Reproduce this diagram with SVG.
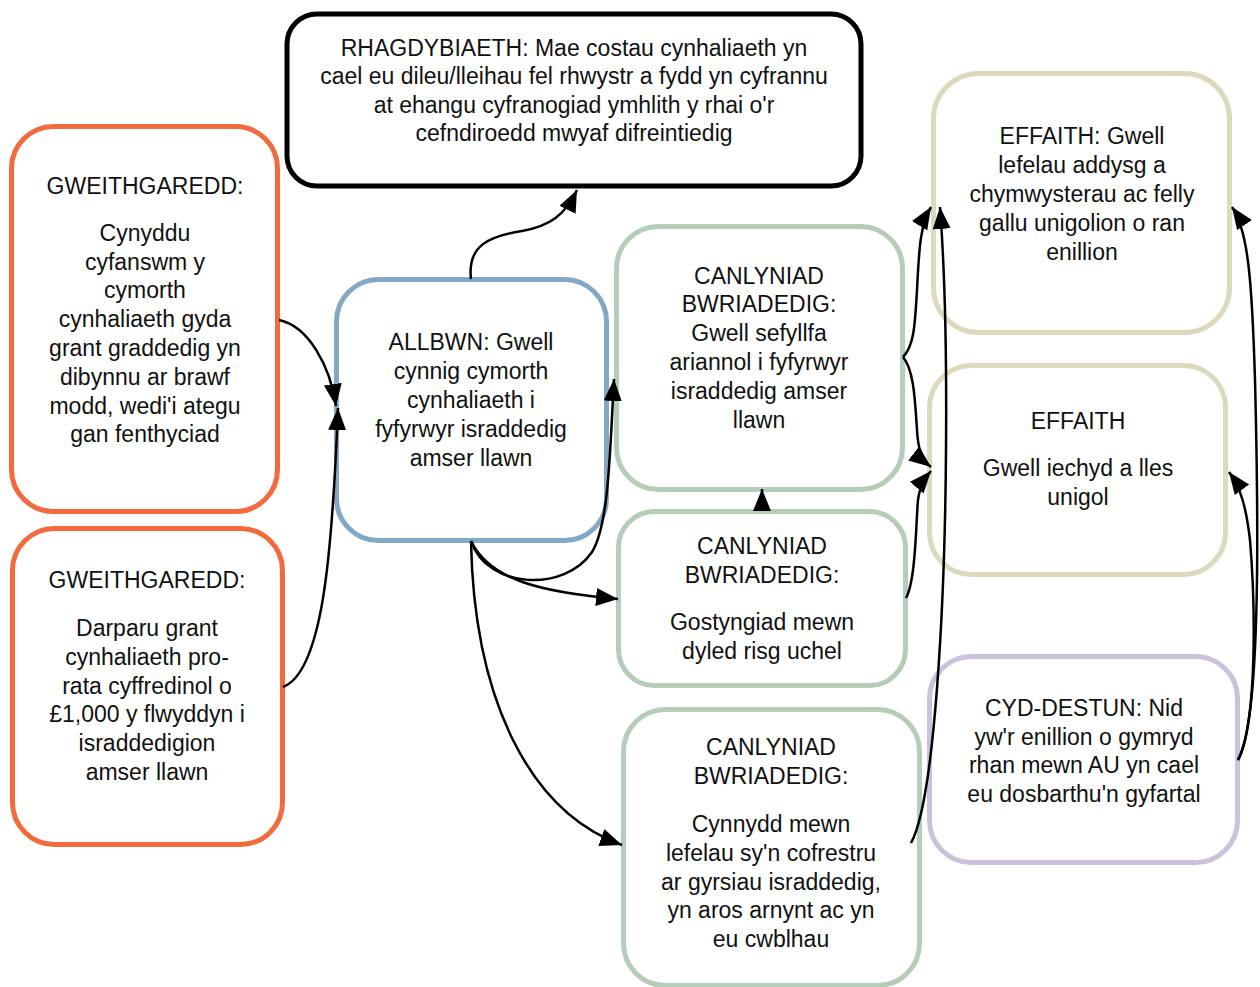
<svg xmlns="http://www.w3.org/2000/svg" width="1260" height="987" viewBox="0 0 1260 987">
<defs>
<style>
.t{font-family:"Liberation Sans",Arial,sans-serif;font-size:23px;fill:#111;text-anchor:middle}
.n{fill:#fff;stroke-width:5}
.c{fill:none;stroke:#000;stroke-width:2.5;marker-end:url(#ah)}
</style>
<marker id="ah" markerUnits="userSpaceOnUse" markerWidth="24" markerHeight="20" refX="22" refY="9" orient="auto">
<path d="M0,0 L22,9 L0,18 z" fill="#000"/>
</marker>
</defs>
<rect width="1260" height="987" fill="#fff"/>

<g id="rhagdybiaeth">
<rect class="n" x="287" y="14" width="574" height="172" rx="30" stroke="#000" stroke-width="6"/>
<text class="t" x="574" y="56">RHAGDYBIAETH: Mae costau cynhaliaeth yn</text>
<text class="t" x="574" y="84">cael eu dileu/lleihau fel rhwystr a fydd yn cyfrannu</text>
<text class="t" x="574" y="113">at ehangu cyfranogiad ymhlith y rhai o'r</text>
<text class="t" x="574" y="141">cefndiroedd mwyaf difreintiedig</text>
</g>

<g id="gweithgaredd1">
<rect class="n" x="11.5" y="126.5" width="266" height="385" rx="42" stroke="#f26a3d"/>
<text class="t" x="145" y="194">GWEITHGAREDD:</text>
<text class="t" x="145" y="241">Cynyddu</text>
<text class="t" x="145" y="270">cyfanswm y</text>
<text class="t" x="145" y="298">cymorth</text>
<text class="t" x="145" y="327">cynhaliaeth gyda</text>
<text class="t" x="145" y="356">grant graddedig yn</text>
<text class="t" x="145" y="385">dibynnu ar brawf</text>
<text class="t" x="145" y="414">modd, wedi'i ategu</text>
<text class="t" x="145" y="442">gan fenthyciad</text>
</g>

<g id="gweithgaredd2">
<rect class="n" x="12.5" y="528.5" width="270" height="316" rx="42" stroke="#f26a3d"/>
<text class="t" x="147" y="588">GWEITHGAREDD:</text>
<text class="t" x="147" y="636">Darparu grant</text>
<text class="t" x="147" y="665">cynhaliaeth pro-</text>
<text class="t" x="147" y="694">rata cyffredinol o</text>
<text class="t" x="147" y="722">£1,000 y flwyddyn i</text>
<text class="t" x="147" y="751">israddedigion</text>
<text class="t" x="147" y="780">amser llawn</text>
</g>

<g id="allbwn">
<rect class="n" x="336.5" y="279.5" width="270" height="261" rx="42" stroke="#84a8c4"/>
<text class="t" x="471" y="350">ALLBWN: Gwell</text>
<text class="t" x="471" y="379">cynnig cymorth</text>
<text class="t" x="471" y="408">cynhaliaeth i</text>
<text class="t" x="471" y="437">fyfyrwyr israddedig</text>
<text class="t" x="471" y="466">amser llawn</text>
</g>

<g id="canlyniad1">
<rect class="n" x="616.5" y="226.5" width="286" height="263" rx="42" stroke="#b4cdb9"/>
<text class="t" x="759" y="284">CANLYNIAD</text>
<text class="t" x="759" y="312">BWRIADEDIG:</text>
<text class="t" x="759" y="341">Gwell sefyllfa</text>
<text class="t" x="759" y="370">ariannol i fyfyrwyr</text>
<text class="t" x="759" y="399">israddedig amser</text>
<text class="t" x="759" y="428">llawn</text>
</g>

<g id="canlyniad2">
<rect class="n" x="618.5" y="511.5" width="287" height="174" rx="36" stroke="#b4cdb9"/>
<text class="t" x="762" y="554">CANLYNIAD</text>
<text class="t" x="762" y="583">BWRIADEDIG:</text>
<text class="t" x="762" y="630">Gostyngiad mewn</text>
<text class="t" x="762" y="659">dyled risg uchel</text>
</g>

<g id="canlyniad3">
<rect class="n" x="623.5" y="709.5" width="296" height="276" rx="42" stroke="#b4cdb9"/>
<text class="t" x="771" y="755">CANLYNIAD</text>
<text class="t" x="771" y="784">BWRIADEDIG:</text>
<text class="t" x="771" y="832">Cynnydd mewn</text>
<text class="t" x="771" y="861">lefelau sy'n cofrestru</text>
<text class="t" x="771" y="890">ar gyrsiau israddedig,</text>
<text class="t" x="771" y="918">yn aros arnynt ac yn</text>
<text class="t" x="771" y="947">eu cwblhau</text>
</g>

<g id="effaith1">
<rect class="n" x="933.5" y="73.5" width="296" height="259" rx="45" stroke="#ddd9bd"/>
<text class="t" x="1082" y="144">EFFAITH: Gwell</text>
<text class="t" x="1082" y="173">lefelau addysg a</text>
<text class="t" x="1082" y="202">chymwysterau ac felly</text>
<text class="t" x="1082" y="231">gallu unigolion o ran</text>
<text class="t" x="1082" y="260">enillion</text>
</g>

<g id="effaith2">
<rect class="n" x="929.5" y="365.5" width="296" height="209" rx="42" stroke="#ddd9bd"/>
<text class="t" x="1078" y="429">EFFAITH</text>
<text class="t" x="1078" y="476">Gwell iechyd a lles</text>
<text class="t" x="1078" y="505">unigol</text>
</g>

<g id="cyd-destun">
<rect class="n" x="929.5" y="656.5" width="308" height="206" rx="42" stroke="#cbc1dc"/>
<text class="t" x="1084" y="716">CYD-DESTUN: Nid</text>
<text class="t" x="1084" y="745">yw'r enillion o gymryd</text>
<text class="t" x="1084" y="773">rhan mewn AU yn cael</text>
<text class="t" x="1084" y="802">eu dosbarthu'n gyfartal</text>
</g>

<g id="connectors">
<path class="c" d="M471,279 C467,245 490,236 522,231 C550,226 565,215 577,190"/>
<path class="c" d="M279,320 C308,326 330,365 336,406"/>
<path class="c" d="M283,687 C322,672 332,560 338,408"/>
<path class="c" d="M471,541 C488,590 565,592 592,552 C609,525 610,450 614,379"/>
<path class="c" d="M471,541 C490,580 540,592 618,599"/>
<path class="c" d="M471,541 C474,700 530,812 622,845"/>
<path class="c" d="M762,511 L762,489"/>
<path class="c" d="M903,357 C915,345 915,320 917,290 C919,250 920,225 931,207"/>
<path class="c" d="M903,357 C914,370 915,400 917,430 C918,450 922,460 931,467"/>
<path class="c" d="M906,598 C916,580 916,520 918,500 C920,485 925,478 931,471"/>
<path class="c" d="M911,843 C935,800 945,600 946,450 C947,330 944,260 940,207"/>
<path class="c" d="M1238,760 C1262,720 1258,500 1255,380 C1252,280 1248,230 1232,207"/>
<path class="c" d="M1238,760 C1258,720 1255,600 1250,540 C1246,505 1240,487 1229,472"/>
</g>
</svg>
